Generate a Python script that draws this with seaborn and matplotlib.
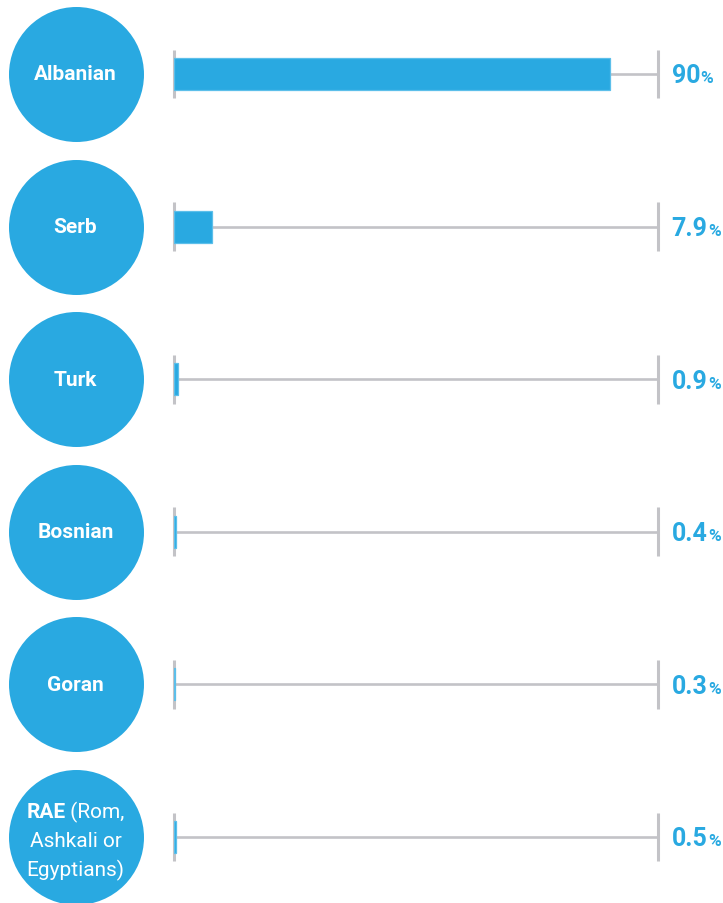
import matplotlib.pyplot as plt
import seaborn as sns

# share of population by community
groups = ['Albanian', 'Serb', 'Turk', 'Bosnian', 'Goran', 'RAE']
shares = [90, 7.9, 0.9, 0.4, 0.3, 0.5]
share_labels = ['90', '7.9', '0.9', '0.4', '0.3', '0.5']

blue = '#29a9e1'
grey = '#c3c3c7'

sns.set_style('white')
plt.rcParams['font.family'] = ['Roboto', 'DejaVu Sans']

W, H = 723, 904
fig = plt.figure(figsize=(W / 100, H / 100), dpi=100)
ax = fig.add_axes([174 / W, 0, 484 / W, 1])

px = 484 / 100  # pixels per percent
row = 152.6      # pixels per row

sns.barplot(x=shares, y=groups, orient='h', color=blue, saturation=1,
            width=32 / row, edgecolor='#5cbfea', linewidth=0.9, ax=ax, zorder=3)
ax.set_xlim(0, 100)
ax.set_ylim((H - 75) / row, -75 / row)
ax.axis('off')

n = len(groups)
ax.hlines(range(n), 0, 100, color=grey, lw=1.9, zorder=1)
for xt in [0, 100]:
    ax.vlines([xt] * n, [i - 0.16 for i in range(n)], [i + 0.16 for i in range(n)],
              color=grey, lw=2.2, zorder=2, clip_on=False)

# circles on the left
cx = (75.5 - 174) / px
ax.scatter([cx] * n, range(n), s=(135 * 0.72) ** 2, color=blue, linewidths=0,
           clip_on=False, zorder=4)

for i, g in enumerate(groups[:-1]):
    ax.text(cx, i, g, ha='center', va='center', color='white', fontsize=15,
            fontweight='bold', zorder=5)

# value labels
nums = []
for i, lab in enumerate(share_labels):
    t = ax.text(102.8, i + 0.055, lab, ha='left', va='baseline', color=blue,
                fontsize=18, fontweight='bold', clip_on=False)
    nums.append(t)

# RAE label: bold + regular on the first line
last = n - 1
t1 = ax.text(cx, last - 0.165, 'RAE', ha='left', va='center', color='white',
             fontsize=15, fontweight='bold', zorder=5)
t2 = ax.text(cx, last - 0.165, ' (Rom,', ha='left', va='center', color='white',
             fontsize=15, zorder=5)
ax.text(cx, last + 0.025, 'Ashkali or', ha='center', va='center', color='white',
        fontsize=15, zorder=5)
ax.text(cx, last + 0.21, 'Egyptians)', ha='center', va='center', color='white',
        fontsize=15, zorder=5)

fig.canvas.draw()
r = fig.canvas.get_renderer()
w1 = t1.get_window_extent(r).width
w2 = t2.get_window_extent(r).width
tot = w1 + w2
t1.set_x(cx - tot / 2 / px)
t2.set_x(cx - tot / 2 / px + w1 / px)

for i, t in enumerate(nums):
    w = t.get_window_extent(r).width
    ax.text(102.8 + (w + 0.5) / px, i + 0.055, '%', ha='left', va='baseline',
            color=blue, fontsize=12.5, fontweight='bold', clip_on=False)

fig.savefig('out.png', dpi=100)
